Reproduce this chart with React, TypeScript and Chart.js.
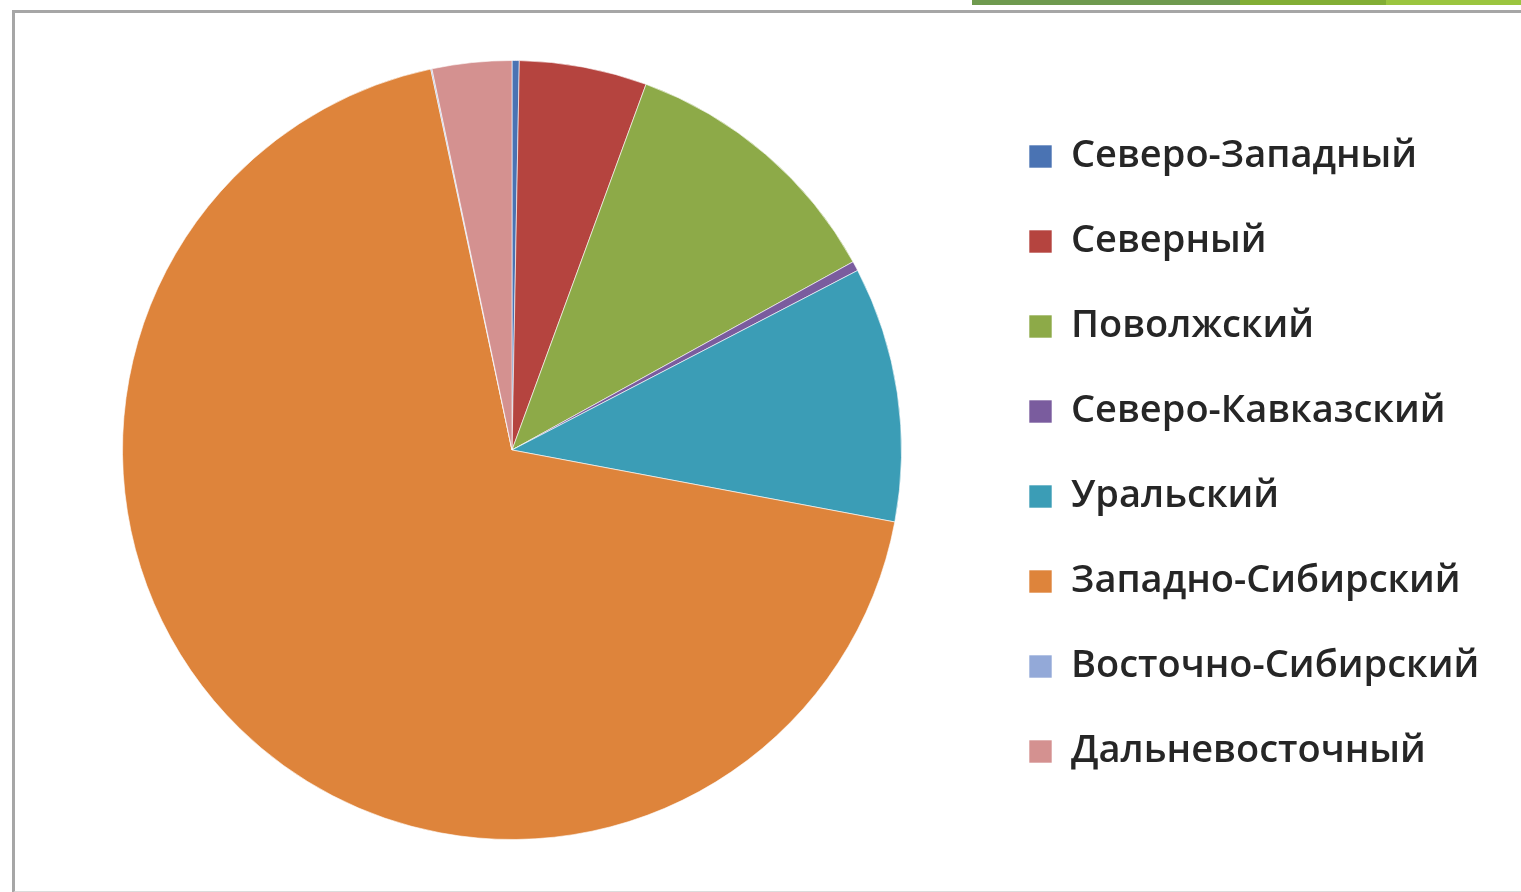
import React, { useEffect, useRef } from "react";
import { Chart, registerables } from "chart.js";

Chart.register(...registerables);

const regions = [
  "Северо-Западный",
  "Северный",
  "Поволжский",
  "Северо-Кавказский",
  "Уральский",
  "Западно-Сибирский",
  "Восточно-Сибирский",
  "Дальневосточный",
];
const shares = [0.3, 5.3, 11.4, 0.4, 10.6, 68.8, 0.05, 3.3];
const colors = ["#4A73B3", "#B5443F", "#8DAA48", "#7A5C9E", "#3B9DB6", "#DE843B", "#93A9D8", "#D49190"];

const FONT_SIZE = 38;
const FONT_FAMILY = "'Open Sans', sans-serif";
const FONT_WEIGHT = "600";
const LEGEND_PAD = 47;
const BOX = 23;

export default function App() {
  const ref = useRef<HTMLCanvasElement>(null);
  useEffect(() => {
    document.body.style.margin = "0";
    const c = ref.current!;
    const mctx = document.createElement("canvas").getContext("2d")!;
    mctx.font = `${FONT_WEIGHT} ${FONT_SIZE}px ${FONT_FAMILY}`;
    const maxText = Math.max(...regions.map((r) => mctx.measureText(r).width));
    const legendLeft = 982;
    const legendRight = legendLeft + LEGEND_PAD + BOX + FONT_SIZE / 2 + maxText + 10;
    const chart = new Chart(c, {
      type: "pie",
      data: {
        labels: regions,
        datasets: [
          {
            data: shares,
            backgroundColor: colors,
            borderColor: "rgba(255,255,255,0.6)",
            borderWidth: 1,
          },
        ],
      },
      options: {
        responsive: false,
        animation: false,
        rotation: 0,
        layout: {
          padding: { left: 42, top: 60, bottom: 52, right: 1521 - legendRight },
        },
        plugins: {
          tooltip: { enabled: false },
          legend: {
            position: "right",
            title: {
              display: true,
              text: " ",
              padding: { top: 3.4, bottom: 3.4 },
              font: { size: 1 },
            },
            labels: {
              boxWidth: BOX,
              boxHeight: BOX,
              padding: LEGEND_PAD,
              color: "#262626",
              font: { size: FONT_SIZE, family: FONT_FAMILY, weight: FONT_WEIGHT as any },
            },
          },
        },
      },
    });
    return () => chart.destroy();
  }, []);
  return (
    <div style={{ position: "relative", width: 1521, height: 892, overflow: "hidden", background: "#fff" }}>
      <div style={{ position: "absolute", left: 12, top: 10, width: 1520, height: 878, borderTop: "3px solid #a6a6a6", borderLeft: "3px solid #a6a6a6", borderBottom: "2px solid #dcdcdc" }} />
      <div style={{ position: "absolute", left: 972, top: 0, width: 280, height: 5, background: "#6F9A4F" }} />
      <div style={{ position: "absolute", left: 1240, top: 0, width: 146, height: 5, background: "#82AE35" }} />
      <div style={{ position: "absolute", left: 1386, top: 0, width: 140, height: 5, background: "#9BC53F" }} />
      <canvas ref={ref} width={1521} height={892} style={{ position: "absolute", left: 0, top: 0 }} />
    </div>
  );
}
